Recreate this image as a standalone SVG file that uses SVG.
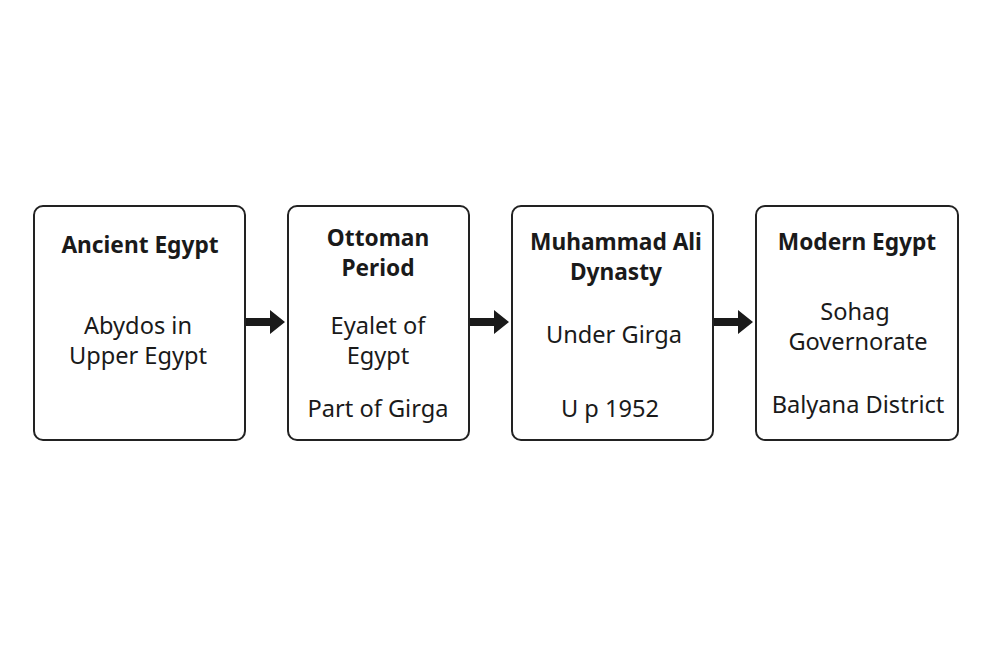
<svg xmlns="http://www.w3.org/2000/svg" width="1000" height="666" viewBox="0 0 1000 666">
<style>
.box{fill:#fff;stroke:#222;stroke-width:2}
.t{font-family:"Noto Sans","Liberation Sans",sans-serif;font-size:22.7px;font-weight:bold;fill:#1a1a1a;text-anchor:middle}
.b{font-family:"Noto Sans","Liberation Sans",sans-serif;font-size:23.6px;fill:#1a1a1a;text-anchor:middle}
.arr{fill:#1a1a1a}
</style>
<rect width="1000" height="666" fill="#fff"/>
<g id="ancient">
<rect class="box" x="34" y="206" width="211" height="234" rx="9"/>
<text class="t" x="140" y="253">Ancient Egypt</text>
<text class="b" x="138" y="334">Abydos in</text>
<text class="b" x="138" y="364">Upper Egypt</text>
</g>
<g id="ottoman">
<rect class="box" x="288" y="206" width="181" height="234" rx="9"/>
<text class="t" x="378" y="246">Ottoman</text>
<text class="t" x="378" y="276">Period</text>
<text class="b" x="378" y="334">Eyalet of</text>
<text class="b" x="378" y="364">Egypt</text>
<text class="b" x="378" y="417">Part of Girga</text>
</g>
<g id="muhammad">
<rect class="box" x="512" y="206" width="201" height="234" rx="9"/>
<text class="t" x="616" y="250">Muhammad Ali</text>
<text class="t" x="616" y="280">Dynasty</text>
<text class="b" x="614" y="343">Under Girga</text>
<text class="b" x="610" y="417">U p 1952</text>
</g>
<g id="modern">
<rect class="box" x="756" y="206" width="202" height="234" rx="9"/>
<text class="t" x="857" y="250">Modern Egypt</text>
<text class="b" x="855" y="320">Sohag</text>
<text class="b" x="858" y="350">Governorate</text>
<text class="b" x="858" y="413">Balyana District</text>
</g>
<g id="connectors">
<polygon class="arr" points="246,318 270,318 270,310 285,322 270,334 270,326 246,326"/>
<polygon class="arr" points="470,318 494,318 494,310 509,322 494,334 494,326 470,326"/>
<polygon class="arr" points="714,318 738,318 738,310 753,322 738,334 738,326 714,326"/>
</g>
</svg>
